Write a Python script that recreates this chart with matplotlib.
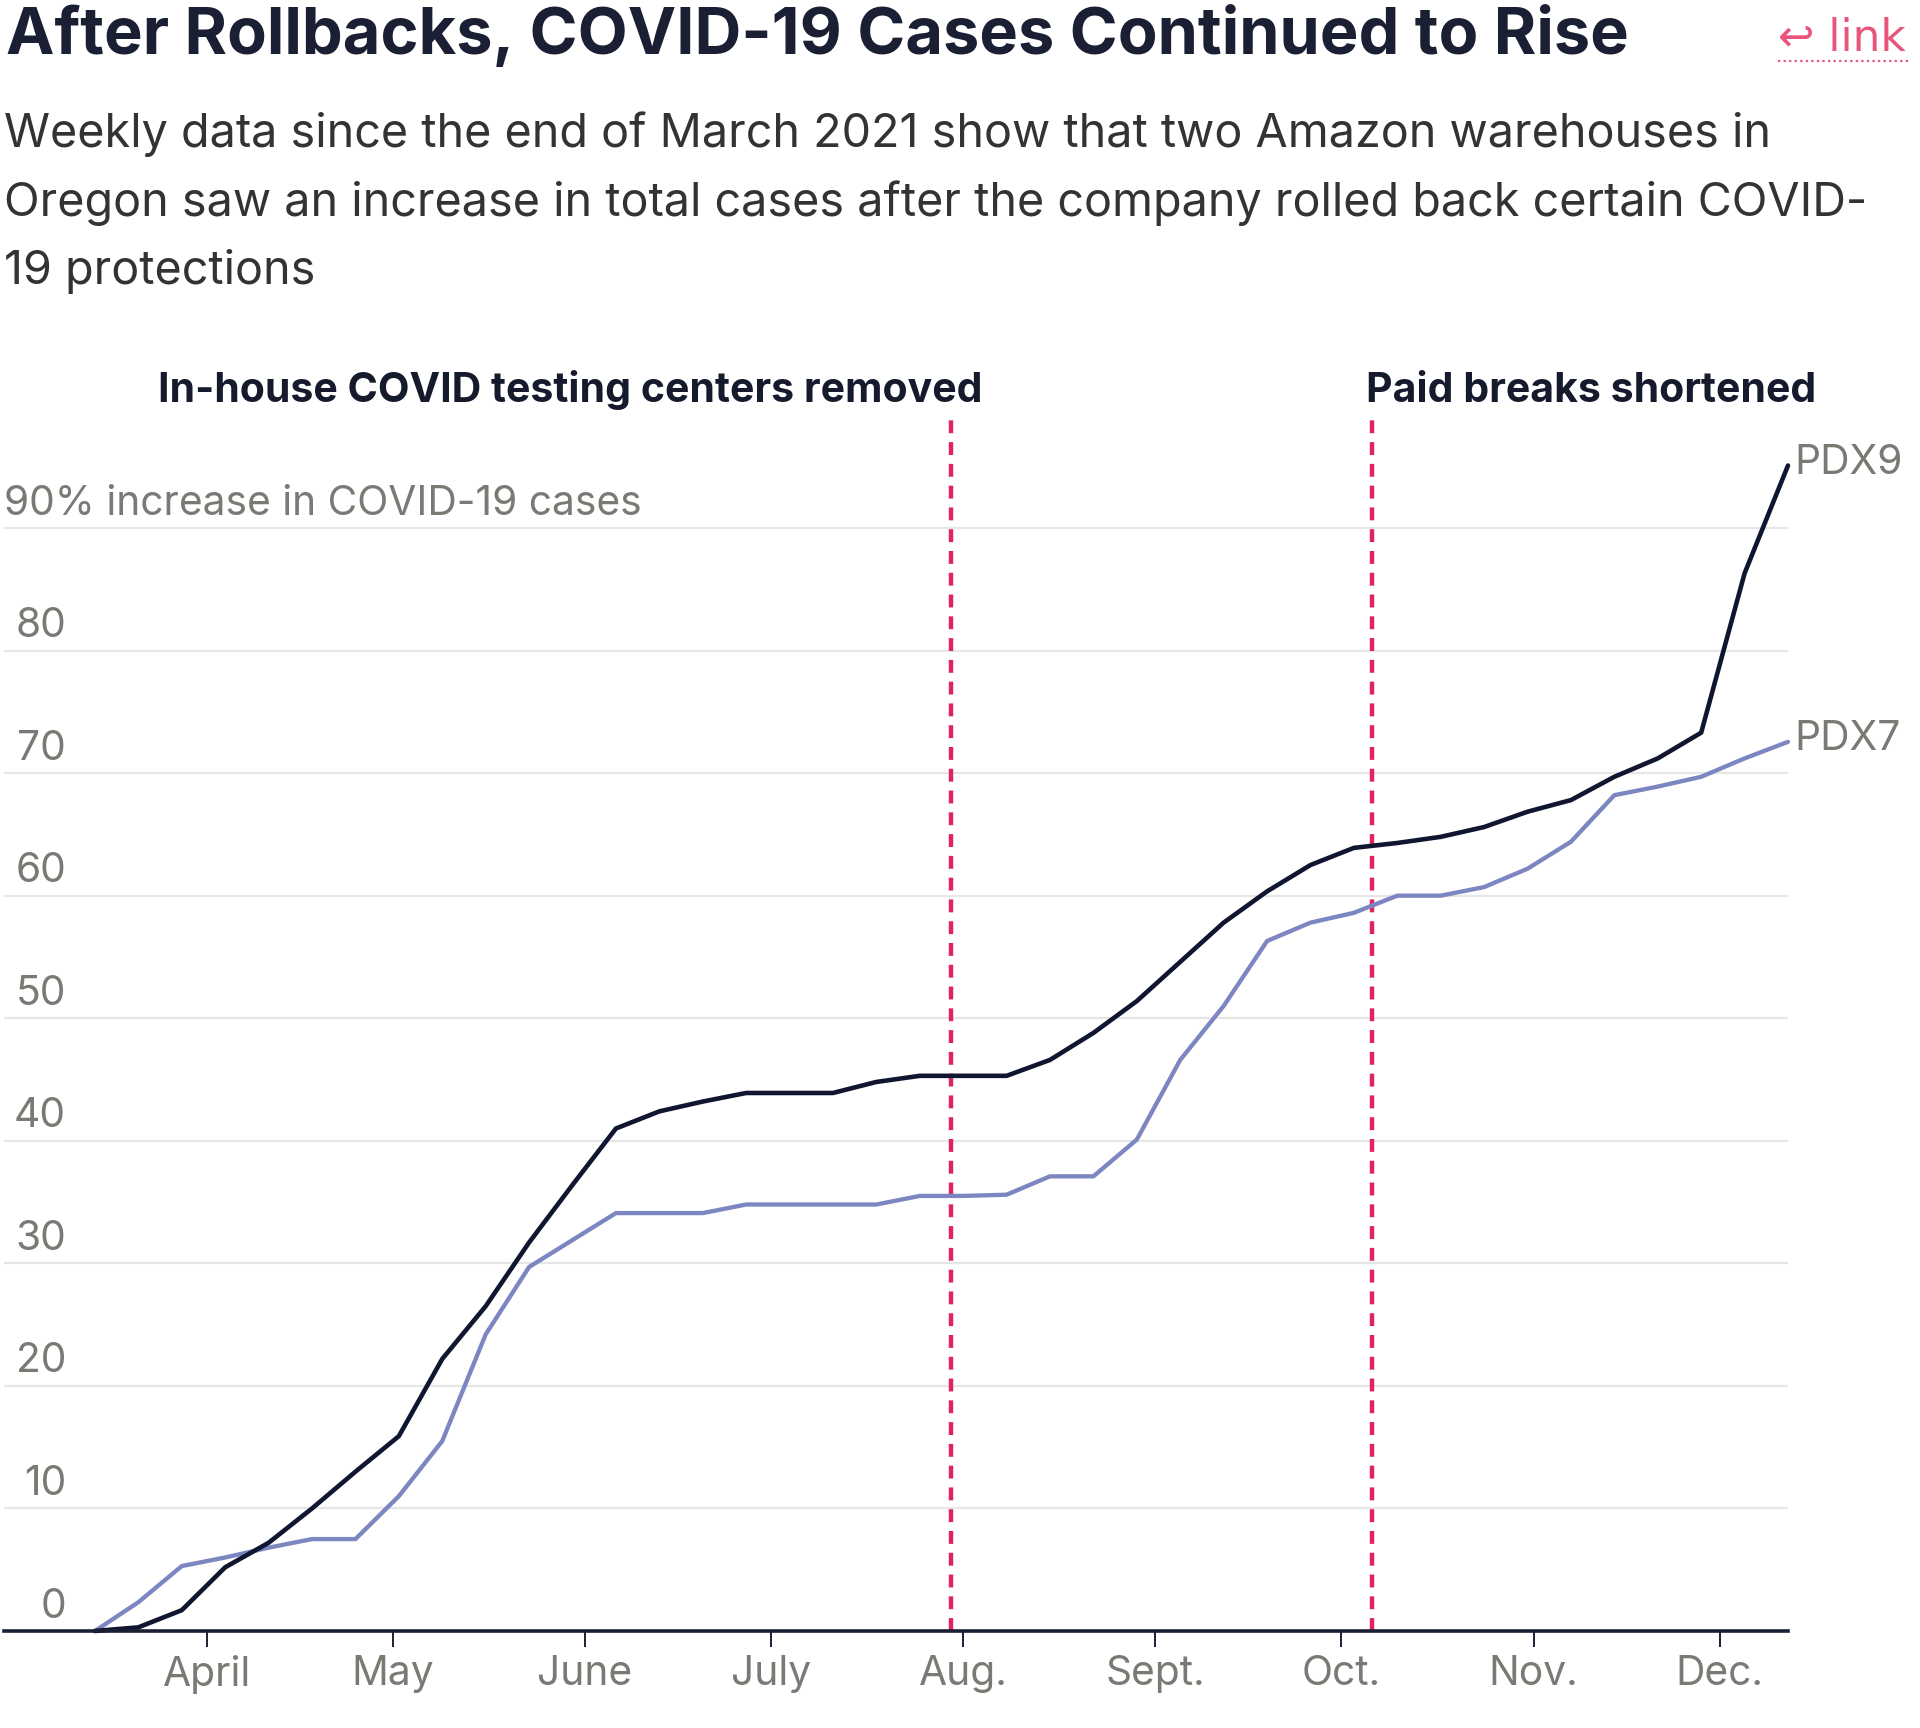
import numpy as np
import pandas as pd
import matplotlib
matplotlib.use("Agg")
import matplotlib.pyplot as plt
from matplotlib.lines import Line2D

# ---------------- data ----------------
weeks = pd.date_range("2021-03-14", periods=40, freq="7D")
pdx9 = [0, 0.3, 1.7, 5.2, 7.2, 10.0, 13.0, 15.9, 22.2, 26.5,
        31.7, 36.4, 41.0, 42.4, 43.2, 43.9, 43.9, 43.9, 44.8, 45.3,
        45.3, 45.3, 46.6, 48.8, 51.4, 54.6, 57.8, 60.35, 62.5, 63.9,
        64.3, 64.8, 65.6, 66.85, 67.8, 69.7, 71.2, 73.3, 86.3, 95.1]
pdx7 = [0, 2.35, 5.3, 6.0, 6.8, 7.5, 7.5, 11.0, 15.5, 24.2,
        29.7, 31.9, 34.1, 34.1, 34.1, 34.8, 34.8, 34.8, 34.8, 35.5,
        35.5, 35.6, 37.1, 37.1, 40.1, 46.6, 51.0, 56.3, 57.8, 58.6,
        60.0, 60.0, 60.7, 62.2, 64.4, 68.2, 68.9, 69.7, 71.2, 72.55]
series_names = ["PDX9", "PDX7"]
month_ticks = pd.to_datetime(["2021-04-01", "2021-05-01", "2021-06-01", "2021-07-01",
                              "2021-08-01", "2021-09-01", "2021-10-01", "2021-11-01",
                              "2021-12-01"])
month_labels = ["April", "May", "June", "July", "Aug.", "Sept.", "Oct.", "Nov.", "Dec."]
y_ticks = [0, 10, 20, 30, 40, 50, 60, 70, 80, 90]
event_dates = pd.to_datetime(["2021-07-30", "2021-10-06"])
event_labels = ["In-house COVID testing centers removed", "Paid breaks shortened"]

title = "After Rollbacks, COVID-19 Cases Continued to Rise"
subtitle_lines = ["Weekly data since the end of March 2021 show that two Amazon warehouses in",
                  "Oregon saw an increase in total cases after the company rolled back certain COVID-",
                  "19 protections"]

# ---------------- style ----------------
plt.rcParams['font.family'] = ['Inter', 'DejaVu Sans']
W, H = 1920, 1728
C_TITLE = "#1b1f33"
C_SUB = "#333333"
C_GRAY = "#7a7a74"
C_GRID = "#e6e6e6"
C_BLACK = "#111630"
C_BLUE = "#7c86c0"
C_RED = "#e0245e"
C_LINK = "#e8547a"

fig = plt.figure(figsize=(W / 100, H / 100), dpi=100)
fig.patch.set_facecolor("white")


def fx(x):
    return x / W


def fy(y):
    return 1 - y / H


def fit(t, target_w, iters=2):
    for _ in range(iters):
        fig.canvas.draw()
        r = fig.canvas.get_renderer()
        w = t.get_window_extent(r).width
        t.set_fontsize(t.get_fontsize() * target_w / w)
    return t.get_fontsize()


# ---------------- axes ----------------
ax_left, ax_right, ax_top, ax_bottom = 4, 1788, 417.7, 1631
ax = fig.add_axes([fx(ax_left), fy(ax_bottom), (ax_right - ax_left) / W, (ax_bottom - ax_top) / H])
ax.set_facecolor("none")
ax.set_xlim(weeks[0] - pd.Timedelta(days=14.67), weeks[-1])
ax.set_ylim(0, 99)

for s in ["top", "right", "left"]:
    ax.spines[s].set_visible(False)
ax.spines["bottom"].set_color(C_TITLE)
ax.spines["bottom"].set_linewidth(2.6)
ax.spines["bottom"].set_zorder(5)

ax.set_yticks(y_ticks[1:])
ax.yaxis.grid(True, color=C_GRID, linewidth=1.6)
ax.tick_params(axis="y", length=0, labelleft=False)
ax.set_axisbelow(True)

ax.set_xticks(month_ticks)
ax.set_xticklabels(month_labels)
ax.tick_params(axis="x", length=11.5, width=1.4, color=C_TITLE, pad=6,
               labelcolor=C_GRAY, labelsize=26)

# event lines
for d in event_dates:
    ax.axvline(d, color=C_RED, linewidth=3.2, dashes=(2.9, 2.0), zorder=2)

# data lines
ax.plot(weeks, pdx7, color=C_BLUE, linewidth=3.1, zorder=3, clip_on=False,
        solid_joinstyle="round", solid_capstyle="round")
ax.plot(weeks, pdx9, color=C_BLACK, linewidth=3.3, zorder=4, clip_on=False,
        solid_joinstyle="round", solid_capstyle="round")

# series labels
lab9 = ax.annotate(series_names[0], xy=(weeks[-1], pdx9[-1]), xytext=(4.3, 2), textcoords="offset points",
                   ha="left", va="center", color=C_GRAY, fontsize=26)
lab7 = ax.annotate(series_names[1], xy=(weeks[-1], pdx7[-1]), xytext=(4.3, 2), textcoords="offset points",
                   ha="left", va="center", color=C_GRAY, fontsize=26)

# y labels (right-aligned just above gridlines)
ytl = []
for v in y_ticks:
    if v == 90:
        t = ax.annotate("90% increase in COVID-19 cases", xy=(0, v), xycoords=("axes fraction", "data"),
                        xytext=(0, 9.7), textcoords="offset points", ha="left", va="baseline",
                        color=C_GRAY, fontsize=26)
        lab90 = t
    else:
        t = ax.annotate(str(v), xy=(62 / (ax_right - ax_left), v), xycoords=("axes fraction", "data"),
                        xytext=(0, 9.7), textcoords="offset points", ha="right", va="baseline",
                        color=C_GRAY, fontsize=26)
        ytl.append(t)

# event annotations
ev1 = ax.annotate(event_labels[0], xy=(event_dates[0], 1.0), xycoords=("data", "axes fraction"),
                  xytext=(23, 11.3), textcoords="offset points", ha="right", va="baseline",
                  fontweight="bold", color="#151a2c", fontsize=26)
ev2 = ax.annotate(event_labels[1], xy=(event_dates[1], 1.0), xycoords=("data", "axes fraction"),
                  xytext=(-5, 11.3), textcoords="offset points", ha="left", va="baseline",
                  fontweight="bold", color="#151a2c", fontsize=26)

# title, subtitle, link
t_title = fig.text(fx(6), fy(54), title, ha="left", va="baseline", fontsize=42,
                   fontweight="bold", color=C_TITLE)
sub_texts = []
for i, (line, yb) in enumerate(zip(subtitle_lines, [147, 215.5, 284])):
    sub_texts.append(fig.text(fx(4), fy(yb), line, ha="left", va="baseline", fontsize=30, color=C_SUB))
t_link = fig.text(fx(1778), fy(51), "\u21a9 link", ha="left", va="baseline", fontsize=28, color=C_LINK,
                  family=["DejaVu Sans"])
fig.add_artist(Line2D([fx(1778), fx(1908)], [fy(61), fy(61)], color=C_LINK, linewidth=1.6,
                      linestyle=(0, (1, 1.5)), transform=fig.transFigure))

# ---------------- size fitting ----------------
fit(t_title, 1623)
sz = fit(sub_texts[0], 1767)
for t in sub_texts[1:]:
    t.set_fontsize(sz)
fit(t_link, 128)
fit(ev1, 825)
ev2.set_fontsize(ev1.get_fontsize())
gsz = fit(lab90, 638)
for t in ytl:
    t.set_fontsize(gsz)
for t in (lab9, lab7):
    t.set_fontsize(gsz)
ax.tick_params(axis="x", labelsize=gsz)

fig.savefig("out.png", dpi=100, facecolor="white")
